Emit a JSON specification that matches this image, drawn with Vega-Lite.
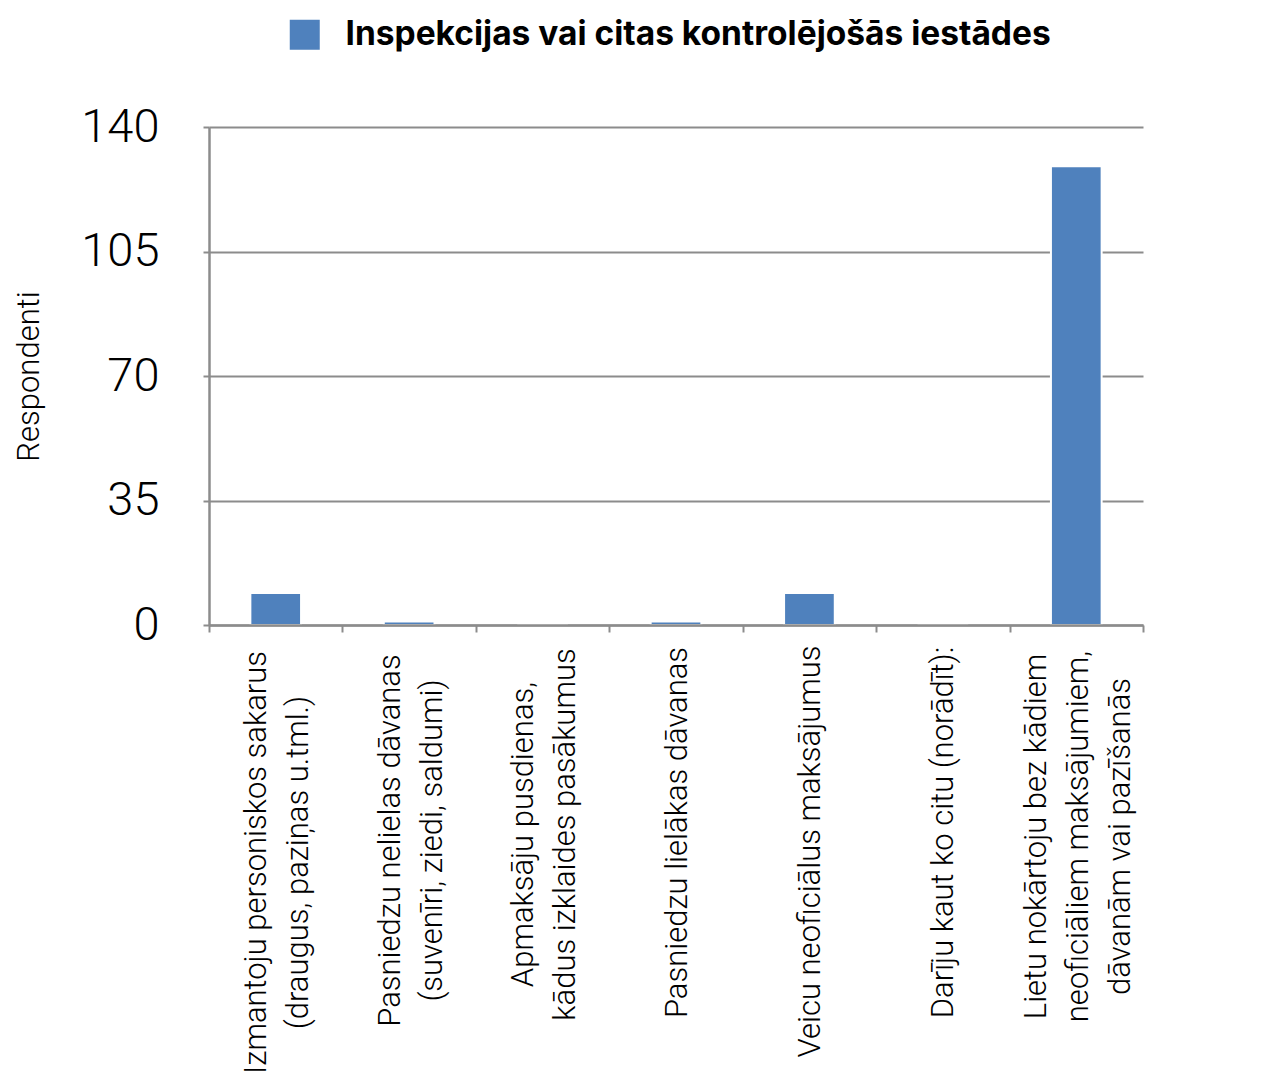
{
  "$schema": "https://vega.github.io/schema/vega-lite/v6.json",
  "autosize": "none",
  "width": 934,
  "height": 498,
  "padding": {"left": 209, "top": 127, "right": 119, "bottom": 448},
  "background": "white",
  "config": {
    "view": {"stroke": null},
    "font": "Roboto"
  },
  "data": {
    "values": [
      {"category": "Izmantoju personiskos sakarus|(draugus, paziņas u.tml.)", "series": "Inspekcijas vai citas kontrolējošās iestādes", "respondents": 9},
      {"category": "Pasniedzu nelielas dāvanas|(suvenīri, ziedi, saldumi)", "series": "Inspekcijas vai citas kontrolējošās iestādes", "respondents": 1},
      {"category": "Apmaksāju pusdienas,|kādus izklaides pasākumus", "series": "Inspekcijas vai citas kontrolējošās iestādes", "respondents": 0},
      {"category": "Pasniedzu lielākas dāvanas", "series": "Inspekcijas vai citas kontrolējošās iestādes", "respondents": 1},
      {"category": "Veicu neoficiālus maksājumus", "series": "Inspekcijas vai citas kontrolējošās iestādes", "respondents": 9},
      {"category": "Darīju kaut ko citu (norādīt):", "series": "Inspekcijas vai citas kontrolējošās iestādes", "respondents": 0},
      {"category": "Lietu nokārtoju bez kādiem|neoficiāliem maksājumiem,|dāvanām vai pazīšanās", "series": "Inspekcijas vai citas kontrolējošās iestādes", "respondents": 129}
    ]
  },
  "mark": {"type": "bar", "stroke": "white", "strokeWidth": 2, "width": {"band": 0.38}},
  "encoding": {
    "x": {
      "field": "category",
      "type": "nominal",
      "sort": null,
      "scale": {"paddingInner": 0, "paddingOuter": 0},
      "axis": {
        "title": null,
        "zindex": 1,
        "labelExpr": "split(datum.label, '|')",
        "labelAngle": 270,
        "labelAlign": "center",
        "labelBaseline": "middle",
        "labelFontSize": 31,
        "labelFontWeight": 300,
        "labelColor": "black",
        "labelLineHeight": 42,
        "labelLimit": 0,
        "labelPadding": {
          "condition": [
            {"test": "indexof(datum.label, 'Izmantoju') == 0", "value": 230},
            {"test": "indexof(datum.label, 'Pasniedzu nelielas') == 0", "value": 208},
            {"test": "indexof(datum.label, 'Apmaksāju') == 0", "value": 202},
            {"test": "indexof(datum.label, 'Veicu') == 0", "value": 219},
            {"test": "indexof(datum.label, 'Lietu') == 0", "value": 204}
          ],
          "value": 200
        },
        "labelOffset": {
          "condition": [
            {"test": "indexof(datum.label, 'Izmantoju') == 0", "value": -19},
            {"test": "indexof(datum.label, 'Pasniedzu nelielas') == 0", "value": -19},
            {"test": "indexof(datum.label, 'Apmaksāju') == 0", "value": -19},
            {"test": "indexof(datum.label, 'Lietu') == 0", "value": -40}
          ],
          "value": 1
        },
        "domainColor": "#8c8c8c",
        "domainWidth": 2.5,
        "tickColor": "#8c8c8c",
        "tickWidth": 2,
        "tickSize": 7,
        "tickBand": "extent",
        "grid": false
      }
    },
    "y": {
      "field": "respondents",
      "type": "quantitative",
      "scale": {"domain": [0, 140]},
      "axis": {
        "title": "Respondenti",
        "titleFontSize": 31,
        "titleFontWeight": 300,
        "titleColor": "black",
        "titleAngle": 270,
        "titleX": -180,
        "titleY": 249,
        "titleAlign": "center",
        "titleBaseline": "middle",
        "values": [0, 35, 70, 105, 140],
        "labelFontSize": 47,
        "labelFontWeight": 300,
        "labelColor": "black",
        "labelPadding": 44,
        "domainColor": "#8c8c8c",
        "domainWidth": 2.5,
        "tickColor": "#8c8c8c",
        "tickWidth": 2,
        "tickSize": 6,
        "grid": true,
        "gridColor": "#8c8c8c",
        "gridWidth": 2
      }
    },
    "color": {
      "field": "series",
      "type": "nominal",
      "scale": {"range": ["#4F81BD"]},
      "legend": {
        "title": null,
        "orient": "none",
        "legendX": 79,
        "legendY": -109,
        "padding": 0,
        "symbolType": "square",
        "symbolSize": 900,
        "symbolStrokeWidth": 0,
        "symbolOpacity": 1,
        "labelFont": "Inter",
        "labelFontSize": 33.5,
        "labelFontWeight": "bold",
        "labelColor": "black",
        "labelOffset": 24,
        "labelLimit": 0
      }
    }
  }
}
